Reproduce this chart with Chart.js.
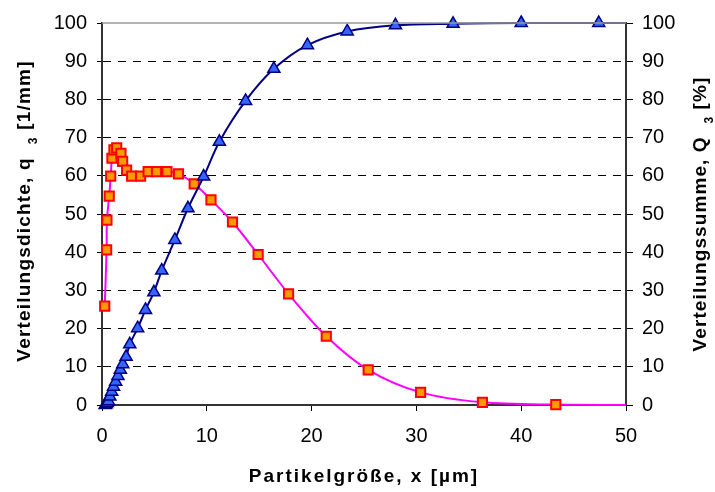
<!DOCTYPE html>
<html>
<head>
<meta charset="utf-8">
<script src="https://cdn.jsdelivr.net/npm/chart.js@4/dist/chart.umd.min.js"></script>
<style>
  html, body { margin: 0; padding: 0; background: #fff; }
</style>
</head>
<body>
<canvas id="chart" width="715" height="492"></canvas>
<script>
// Verteilungsdichte q3 [1/mm] (squares)
const densityX = [0.26, 0.44, 0.47, 0.69, 0.83, 0.95, 1.14, 1.4, 1.81, 1.97, 2.35, 2.83, 3.68, 4.4, 5.2, 6.2, 7.3, 8.8, 10.4, 12.45, 14.9, 17.8, 21.4, 25.4, 30.4, 36.3, 43.3, 50];
const densityY = [25.9, 40.6, 48.4, 54.7, 59.9, 64.6, 66.8, 67.3, 65.9, 63.8, 61.5, 59.9, 59.9, 61.1, 61.1, 61.1, 60.5, 57.9, 53.7, 47.9, 39.4, 29.1, 18.0, 9.2, 3.3, 0.7, 0.1, 0];

// Verteilungssumme Q3 [%] (triangles)
const sumX = [0.3, 0.4, 0.5, 0.62, 0.75, 0.92, 1.1, 1.3, 1.52, 1.75, 1.98, 2.3, 2.65, 3.4, 4.15, 4.95, 5.7, 6.95, 8.2, 9.7, 11.2, 13.7, 16.4, 19.6, 23.4, 28.0, 33.5, 40.0, 47.4, 50];
const sumY = [0, 0.2, 0.5, 1.0, 2.2, 3.5, 4.8, 6.1, 7.6, 9.2, 10.7, 12.6, 15.9, 20.1, 24.9, 29.5, 35.2, 43.2, 51.5, 59.8, 68.9, 79.6, 88.0, 94.2, 97.8, 99.4, 99.8, 100, 100, 100];

const X_MAX = 50;
const FONT = "'Liberation Sans', Arial, sans-serif";
const TITLE_FONT = "bold 19px " + FONT;
const SUB_FONT = "bold 12px " + FONT;

const toPoints = (xs, ys) => xs.map((x, i) => ({ x: x, y: ys[i] }));
// the last point only carries the line to the plot edge, it has no marker
const markerRadius = (r) => (ctx) => (ctx.raw && ctx.raw.x >= X_MAX ? 0 : r);

function drawRichText(ctx, parts, cx, cy, rotation, spacing) {
  ctx.save();
  ctx.translate(cx, cy);
  ctx.rotate(rotation);
  ctx.fillStyle = "#000";
  ctx.textAlign = "left";
  ctx.textBaseline = "middle";
  ctx.letterSpacing = spacing + "px";
  let total = 0;
  parts.forEach((p) => {
    ctx.font = p.font;
    total += ctx.measureText(p.text).width;
  });
  let x = -total / 2;
  parts.forEach((p) => {
    ctx.font = p.font;
    ctx.fillText(p.text, x, p.dy || 0);
    x += ctx.measureText(p.text).width;
  });
  ctx.restore();
}

const titlesPlugin = {
  id: "titles",
  afterDraw(chart) {
    const { ctx, chartArea } = chart;
    // grey top frame of the plot area
    ctx.save();
    ctx.strokeStyle = "#999";
    ctx.lineWidth = 1.5;
    ctx.beginPath();
    ctx.moveTo(chartArea.left, chartArea.top);
    ctx.lineTo(chartArea.right, chartArea.top);
    ctx.stroke();
    ctx.restore();

    drawRichText(ctx, [
      { text: "Verteilungsdichte, q", font: TITLE_FONT },
      { text: "  ", font: TITLE_FONT },
      { text: "3", font: SUB_FONT, dy: 9 },
      { text: " [1/mm]", font: TITLE_FONT },
    ], 25, 211, -Math.PI / 2, 1.2);

    drawRichText(ctx, [
      { text: "Verteilungssumme, Q", font: TITLE_FONT },
      { text: "  ", font: TITLE_FONT },
      { text: "3", font: SUB_FONT, dy: 9 },
      { text: " [%]", font: TITLE_FONT },
    ], 701, 214, -Math.PI / 2, 1.1);

    drawRichText(ctx, [
      { text: "Partikelgröße, x [µm]", font: TITLE_FONT },
    ], 364, 477, 0, 2);
  },
};

const tickFont = { family: FONT, size: 20 };

new Chart(document.getElementById("chart"), {
  type: "line",
  data: {
    datasets: [
      {
        label: "Verteilungssumme Q3",
        data: toPoints(sumX, sumY),
        yAxisID: "y2",
        borderColor: "#000080",
        borderWidth: 2,
        tension: 0.3,
        pointStyle: "triangle",
        pointRadius: markerRadius(7),
        pointBackgroundColor: "#3366ff",
        pointBorderColor: "#000080",
        pointBorderWidth: 1.5,
        clip: false,
        order: 1,
      },
      {
        label: "Verteilungsdichte q3",
        data: toPoints(densityX, densityY),
        yAxisID: "y",
        borderColor: "#ff00ff",
        borderWidth: 2,
        tension: 0.3,
        pointStyle: "rect",
        pointRadius: markerRadius(6.5),
        pointBackgroundColor: "#ff9900",
        pointBorderColor: "#ff0000",
        pointBorderWidth: 2,
        clip: false,
        order: 2,
      },
    ],
  },
  options: {
    responsive: false,
    animation: false,
    devicePixelRatio: 1,
    layout: { padding: { top: 23, left: 0, right: 0, bottom: 0 } },
    plugins: {
      legend: { display: false },
      tooltip: { enabled: false },
    },
    scales: {
      x: {
        type: "linear",
        min: 0,
        max: X_MAX,
        afterFit: (s) => { s.height = 87; },
        grid: {
          drawOnChartArea: false,
          tickLength: 6,
          tickColor: "#000",
        },
        border: { color: "#333", width: 2 },
        ticks: { stepSize: 10, font: tickFont, color: "#000", padding: 13, maxRotation: 0 },
      },
      y: {
        type: "linear",
        position: "left",
        min: 0,
        max: 100,
        afterFit: (s) => { s.width = 102; },
        grid: {
          color: (c) => (c.tick && (c.tick.value === 0 || c.tick.value === 100) ? "rgba(0,0,0,0)" : "#000"),
          lineWidth: 1,
          tickLength: 5,
          tickColor: "#000",
          tickBorderDash: [],
        },
        border: { color: "#333", width: 2, dash: [8, 7] },
        ticks: { stepSize: 10, font: tickFont, color: "#000", padding: 10 },
      },
      y2: {
        type: "linear",
        position: "right",
        min: 0,
        max: 100,
        afterFit: (s) => { s.width = 89; },
        grid: {
          drawOnChartArea: false,
          tickLength: 7,
          tickColor: "#000",
        },
        border: { color: "#333", width: 2 },
        ticks: { stepSize: 10, font: tickFont, color: "#000", padding: 9 },
      },
    },
  },
  plugins: [titlesPlugin],
});
</script>
</body>
</html>
